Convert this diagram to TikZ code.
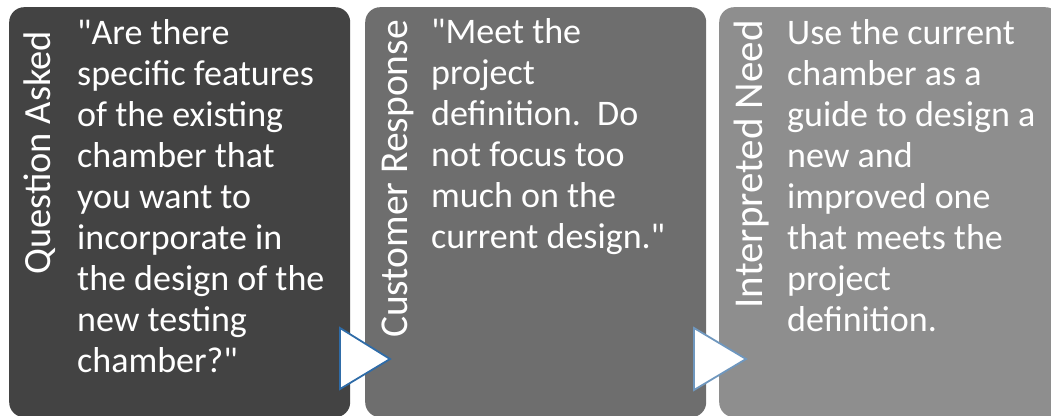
\documentclass[tikz,border=0pt]{standalone}
\usepackage{fontspec}
\setmainfont{Carlito}

\definecolor{askgray}{RGB}{67,67,67}
\definecolor{respgray}{RGB}{110,110,110}
\definecolor{needgray}{RGB}{142,142,142}
\definecolor{tipblue}{RGB}{47,108,168}
\definecolor{tipblue2}{RGB}{111,151,190}

\newcommand{\qq}{\textquotedbl}

\tikzset{
  stage/.style={anchor=north west, rounded corners=15, minimum width=341,
    minimum height=410, inner sep=0},
  heading/.style={rotate=90, anchor=base east, inner sep=0, text=white},
  body/.style={anchor=north west, align=left, inner sep=0, text=white,
    font=\fontsize{36}{41}\selectfont},
  flowtip/.style={fill=white, line width=1.8, line join=miter}
}

\begin{document}
\begin{tikzpicture}[x=1pt, y=-1pt]
  \useasboundingbox (0,0) rectangle (1051,415);
  \clip (0,0) rectangle (1051,415);

  % the three stages
  \node[stage, fill=askgray]  (ask)  at (9,7)   {};
  \node[stage, fill=respgray] (resp) at (365,7) {};
  \node[stage, fill=needgray] (need) at (719,7) {};

  % side headings
  \node[heading, font=\fontsize{38.5}{41}\selectfont] (askhead)  at (50,31)  {Question Asked};
  \node[heading, font=\fontsize{39.5}{41}\selectfont] (resphead) at (407,20) {Customer Response};
  \node[heading, font=\fontsize{41}{41}\selectfont]   (needhead) at (762,20) {Interpreted Need};

  % texts
  \node[body] (asktext) at (77,16) {\strut\qq Are there\\ specific features\\ of the existing\\
    chamber that\\ you want to\\ incorporate in\\ the design of the\\ new testing\\ chamber?\qq};
  \node[body] (resptext) at (431,15) {\strut\qq Meet the\\ project\\ definition.\ \ Do\\
    not focus too\\ much on the\\ current design.\qq};
  \node[body] (needtext) at (787,16) {\strut Use the current\\ chamber as a\\
    guide to design a\\ new and\\ improved one\\ that meets the\\ project\\ definition.};

  % arrows between stages
  \draw[flowtip, draw=tipblue]  (340,328) -- (340,389) -- (390,359) -- cycle;
  \draw[flowtip, draw=tipblue2] (694,328) -- (694,390) -- (746,359) -- cycle;
\end{tikzpicture}
\end{document}
